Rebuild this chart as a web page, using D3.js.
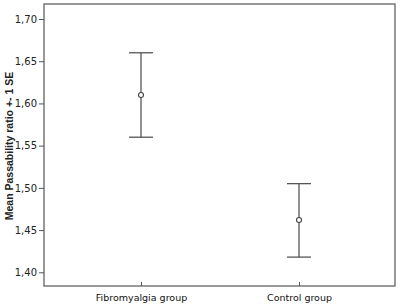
<!DOCTYPE html>
<html>
<head>
<meta charset="utf-8">
<script src="https://cdn.jsdelivr.net/npm/d3@7"></script>
<style>
  body { margin: 0; background: #fff; }
  svg text { font-family: "DejaVu Sans", sans-serif; }
</style>
</head>
<body>
<div id="chart"></div>
<script>
// data
const groups = ["Fibromyalgia group", "Control group"];
const means = [1.610, 1.462];
const upper = [1.660, 1.505];
const lower = [1.560, 1.418];
const yTicks = [1.40, 1.45, 1.50, 1.55, 1.60, 1.65, 1.70];

const width = 400, height = 306;
const margin = { top: 4, right: 5, bottom: 20, left: 44 };

const svg = d3.select("#chart").append("svg")
    .attr("width", width)
    .attr("height", height);

// y range chosen so 1.40 and 1.70 fall where the reference puts them
const y = d3.scaleLinear()
    .domain([1.40, 1.70])
    .range([272.3, 19]);

const x = d3.scalePoint()
    .domain(groups)
    .range([141, 299]);

// frame
svg.append("rect")
    .attr("x", margin.left)
    .attr("y", margin.top)
    .attr("width", width - margin.left - margin.right)
    .attr("height", height - margin.top - margin.bottom)
    .attr("fill", "none")
    .attr("stroke", "#6e6e6e")
    .attr("stroke-width", 1.4);

// y axis
const yAxis = svg.append("g")
    .attr("transform", `translate(${margin.left},0)`)
    .call(d3.axisLeft(y).tickValues(yTicks).tickSize(5).tickPadding(2)
        .tickFormat(d => d3.format(".2f")(d).replace(".", ",")));
yAxis.select(".domain").remove();
yAxis.selectAll("line").attr("stroke", "#555");
yAxis.selectAll("text").attr("font-size", 10).attr("fill", "#222")
    .style("font-family", "DejaVu Sans, sans-serif");

// x axis
const xAxis = svg.append("g")
    .attr("transform", `translate(0,${height - margin.bottom})`)
    .call(d3.axisBottom(x).tickSize(4).tickPadding(4));
xAxis.select(".domain").remove();
xAxis.selectAll("line").attr("stroke", "#555").attr("transform", "translate(0,-4)").attr("y2", 4);
xAxis.selectAll("text").attr("font-size", 9.5).attr("fill", "#111")
    .style("font-family", "DejaVu Sans, sans-serif");

// axis title
svg.append("text")
    .attr("transform", `translate(13,146) rotate(-90)`)
    .attr("text-anchor", "middle")
    .attr("font-size", 10.5)
    .attr("font-weight", "bold")
    .attr("fill", "#222")
    .style("font-family", "Liberation Sans, Arial, sans-serif")
    .text("Mean Passability ratio +- 1 SE");

// error bars
const capHalf = 12;
const bars = svg.selectAll(".err")
    .data(groups)
    .join("g")
    .attr("class", "err");

bars.append("line")
    .attr("x1", d => x(d)).attr("x2", d => x(d))
    .attr("y1", (d, i) => y(upper[i])).attr("y2", (d, i) => y(lower[i]))
    .attr("stroke", "#555").attr("stroke-width", 1.3);

bars.append("line")
    .attr("x1", d => x(d) - capHalf).attr("x2", d => x(d) + capHalf)
    .attr("y1", (d, i) => y(upper[i])).attr("y2", (d, i) => y(upper[i]))
    .attr("stroke", "#555").attr("stroke-width", 1.3);

bars.append("line")
    .attr("x1", d => x(d) - capHalf).attr("x2", d => x(d) + capHalf)
    .attr("y1", (d, i) => y(lower[i])).attr("y2", (d, i) => y(lower[i]))
    .attr("stroke", "#555").attr("stroke-width", 1.3);

bars.append("circle")
    .attr("cx", d => x(d))
    .attr("cy", (d, i) => y(means[i]))
    .attr("r", 2.5)
    .attr("fill", "#fff")
    .attr("stroke", "#444")
    .attr("stroke-width", 1.1);
</script>
</body>
</html>
